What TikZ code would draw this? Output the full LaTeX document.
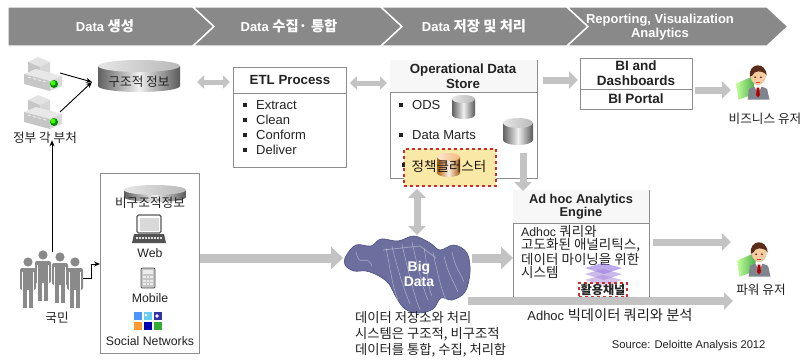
\documentclass[tikz,border=0pt]{standalone}
\usepackage{fontspec}
\setmainfont{Liberation Sans}
\newfontfamily\kr[Scale=1.1]{Noto Sans CJK KR}
\usetikzlibrary{arrows.meta,calc}

\definecolor{bandgray}{HTML}{898989}
\definecolor{flowgray}{HTML}{C3C3C3}
\definecolor{boxline}{HTML}{8E8E8E}
\definecolor{dashred}{HTML}{D02A2A}
\definecolor{policyfill}{HTML}{F9E9A6}
\definecolor{blobfill}{HTML}{6C6F9E}
\definecolor{blobline}{HTML}{4D5082}
\definecolor{crowd}{HTML}{8A8A8A}
\definecolor{skin}{HTML}{F6CDA3}
\definecolor{hair}{HTML}{5A2C1A}
\definecolor{suit}{HTML}{7E858E}
\definecolor{txt}{HTML}{222222}

% silver / gold database can: centre x, y of top cap, half width, body height, cap radius, tone
\newcommand\dbcan[6]{%
  \shade[left color=#6!75!black, right color=#6!70!black, middle color=#6!12!white]
    (#1-#3,#2) -- (#1-#3,#2+#4) arc[start angle=180,end angle=0,x radius=#3,y radius=#5] -- (#1+#3,#2) -- cycle;
  \shade[left color=#6!20!white, right color=#6!55!white]
    (#1,#2) ellipse[x radius=#3, y radius=#5];
}

\tikzset{
  hdr/.style={text=white, font=\bfseries\fontsize{13}{14}\selectfont, align=center},
  box/.style={draw=boxline, line width=0.8pt, fill=white},
  head/.style={font=\bfseries\fontsize{13.3}{14.5}\selectfont, text=txt, align=center},
  item/.style={font=\fontsize{13}{15}\selectfont, text=txt, anchor=west, inner sep=0pt},
  lbl/.style={font=\kr\fontsize{11.5}{12.5}\selectfont, text=txt},
  flow/.style={draw=flowgray, line width=7pt, -{Triangle[length=9pt,width=17pt]}},
  bigflow/.style={draw=flowgray, line width=9pt, -{Triangle[length=12pt,width=22pt]}},
  twoway/.style={draw=flowgray, line width=5pt, {Triangle[length=7pt,width=13pt]}-{Triangle[length=7pt,width=13pt]}},
  thin/.style={draw=black, line width=0.9pt, -{Stealth[length=6pt,width=5pt]}},
  usericon/.pic={
    \shade[left color=green!45!lime!40!white, right color=green!55!black!70]
      (-19,4) -- (-3,-3) -- (-3,13) -- (-17,18) -- cycle;
    \fill[suit] (-9,18) -- (-8,9) .. controls (-6,6) and (6,6) .. (8,9) -- (10,18) -- cycle;
    \fill[white] (-3,6.5) -- (3,6.5) -- (0,13) -- cycle;
    \fill[red!70!black] (-1.2,7.5) -- (1.2,7.5) -- (1.6,14) -- (0,16) -- (-1.6,14) -- cycle;
    \fill[skin, draw=brown!60, line width=0.3pt] (0,-3) ellipse[x radius=6.5, y radius=8];
    \fill[hair] (-7,-2) .. controls (-9,-14) and (7,-16) .. (7.5,-3)
      -- (6,-5) .. controls (3,-7) and (-3,-8) .. (-5,-3) -- cycle;
    \fill[hair] (-2.5,-1.5) circle[radius=0.8] (2.5,-1.5) circle[radius=0.8];
    \draw[red!50!brown, line width=0.5pt] (-1.5,2.5) -- (1.5,2.5);
  },
  building/.pic={
    % back block
    \fill[gray!22] (0,0) -- (10,-5) -- (22,0) -- (12,5) -- cycle;
    \fill[gray!45] (0,0) -- (12,5) -- (12,17) -- (0,12) -- cycle;
    \fill[gray!32] (12,5) -- (22,0) -- (22,12) -- (12,17) -- cycle;
    % front block
    \fill[gray!18] (-4,12) -- (8,7) -- (34,14) -- (22,19) -- cycle;
    \fill[gray!45] (-4,12) -- (22,19) -- (22,29) -- (-4,22) -- cycle;
    \fill[gray!30] (22,19) -- (34,14) -- (34,24) -- (22,29) -- cycle;
    \foreach \wx in {0,5,10,15} \draw[gray!15, line width=1pt] (\wx,15+\wx*0.27) -- (\wx+3,16+\wx*0.27);
    \fill[green!55!black] (26,22) circle[radius=4];
    \fill[green!70!lime] (25,21) circle[radius=2.5];
  },
  walker/.pic={
    \fill[crowd] (0,0) circle[radius=4.6];
    \fill[crowd, rounded corners=2pt] (-8,6) rectangle (8,28);
    \fill[crowd] (-5,24) rectangle (-0.7,46);
    \fill[crowd] (0.7,24) rectangle (5,46);
    \draw[white, line width=0.6pt] (-5.5,10) -- (-5.5,28) (5.5,10) -- (5.5,28);
  }
}

\begin{document}
\begin{tikzpicture}[x=1pt,y=-1pt]
\useasboundingbox (0,0) rectangle (804,364);
\fill[white] (0,0) rectangle (804,364);

% ---------- stage band ----------
\fill[bandgray, draw=white, line width=1.4pt]
  (8,7) -- (193,7) -- (214,26.5) -- (193,46) -- (8,46) -- cycle;
\foreach \xa/\xb in {193/381, 381/567, 567/767} {
  \fill[bandgray, draw=white, line width=1.4pt]
    (\xa,7) -- (\xb,7) -- (\xb+21,26.5) -- (\xb,46) -- (\xa,46) -- (\xa+21,26.5) -- cycle;
}
\node[hdr] (st1) at (105,26.5) {Data {\kr 생성}};
\node[hdr] (st2) at (289,26.5) {Data {\kr 수집}{\kr ·} {\kr 통합}};
\node[hdr] (st3) at (474,26.5) {Data {\kr 저장 및 처리}};
\node[hdr] (st4) at (660,27) {Reporting, Visualization\\Analytics};

% ---------- ministries and structured data ----------
\pic at (28,62) {building};
\pic at (28,100) {building};
\node[lbl] (gov) at (45,138) {정부 각 부처};
\coordinate (b1) at (60,73);
\coordinate (b2) at (60,112);

\dbcan{139}{66}{41}{20}{6}{gray}
\node[lbl] (sdb) at (139,82) {구조적 정보};
\coordinate (sdbin) at (92,82);
\draw[thin] (b1) -- (sdbin);
\draw[thin] (b2) -- (sdbin);

% ---------- ETL ----------
\node[box, minimum width=113pt, minimum height=100pt, anchor=north west, inner sep=0pt] (etl) at (233,67) {};
\draw[boxline, line width=0.8pt] (233,93) -- (346,93);
\node[head] (etlh) at (290,80) {ETL Process};
\foreach \t/\yy in {Extract/105, Clean/120, Conform/135, Deliver/150} {
  \fill[txt] (243,\yy-1.7) rectangle (246.5,\yy+1.7);
  \node[item] at (256,\yy) {\t};
}

\draw[twoway] (197,82) -- ([xshift=-3pt]etl.west |- 0,82);

% ---------- operational data store ----------
\node[box, minimum width=147pt, minimum height=118pt, anchor=north west, inner sep=0pt] (ods) at (390,60) {};
\fill[gray!6] (390.4,60.4) rectangle (536.6,92);
\draw[boxline, line width=0.8pt] (390,92) -- (537,92);
\node[head] (odsh) at (463,76) {Operational Data\\Store};
\fill[txt] (399,103.3) rectangle (402.5,106.7);
\node[item] at (412,105) {ODS};
\fill[txt] (399,133.3) rectangle (402.5,136.7);
\node[item] at (412,135) {Data Marts};
\dbcan{463.5}{99}{11.5}{16}{4}{gray}
\dbcan{518}{123}{15}{17}{5}{gray}

\draw[twoway] ([xshift=3pt]etl.east |- 0,83) -- ([xshift=-3pt]ods.west |- 0,83);

% policy cluster
\node[draw=dashred, dashed, line width=1.8pt, fill=policyfill, minimum width=92pt, minimum height=37pt, anchor=north west, inner sep=0pt] (pol) at (403,148) {};
\dbcan{448.5}{157}{11.5}{16}{4}{orange!70!brown}
\fill[txt] (401.5,163.3) rectangle (405,166.7);
\node[font=\kr\fontsize{12.3}{13}\selectfont, text=black!85!brown] (polt) at (449,166) {정책클러스터};

% ---------- BI ----------
\node[box, minimum width=112pt, minimum height=51pt, anchor=north west, inner sep=0pt] (bi) at (580,58) {};
\draw[boxline, line width=0.8pt] (580,89) -- (692,89);
\node[head, font=\bfseries\fontsize{13.5}{15}\selectfont] (bih) at (636,73) {BI and\\Dashboards};
\node[head, font=\bfseries\fontsize{13.5}{15}\selectfont] (bip) at (636,99) {BI Portal};
\draw[flow] ([xshift=5pt]ods.east |- 0,80) -- ([xshift=-2pt]bi.west |- 0,80);

\pic[scale=1.15] at (758,79) {usericon};
\node[lbl] (biz) at (765,119) {비즈니스 유저};
\coordinate (bizin) at (731,90);
\draw[flow] ([xshift=2pt]bi.east |- 0,90) -- (bizin);

% ---------- citizens ----------
\pic at (43,255) {walker};
\pic at (60,257) {walker};
\pic at (28,262) {walker};
\pic at (75,262) {walker};
\node[lbl] (ppl) at (57,318) {국민};
\coordinate (pplTop) at (52,252);
\draw[thin] (pplTop) -- ([yshift=7pt]gov.south -| pplTop);

% ---------- unstructured sources ----------
\node[box, line width=0.7pt, minimum width=99pt, minimum height=180pt, anchor=north west, inner sep=0pt] (src) at (100,173) {};
\draw[thin] (83,278) -- (91,278) -- (91,264) -- (src.west |- 0,264);
\dbcan{155}{190}{31}{7}{5}{gray}
\node[lbl] (unst) at (150,203) {비구조적정보};
% laptop
\draw[gray!70!black, line width=1.2pt, fill=white, rounded corners=1.5pt] (137,215) rectangle (161,233);
\fill[gray!30] (139.5,217.5) rectangle (158.5,231);
\fill[gray!65!black] (134,234) -- (164,234) -- (166,243) -- (132,243) -- cycle;
\foreach \kx in {136,139,...,162} \fill[gray!25] (\kx,237) rectangle (\kx+1.6,239);
\node[font=\fontsize{12.3}{13}\selectfont, text=txt] (web) at (150,253) {Web};
% calculator
\draw[gray!70!black, line width=0.8pt, fill=gray!45, rounded corners=1pt] (141,268) rectangle (155,288);
\fill[gray!15] (143,270) rectangle (153,274);
\foreach \cx in {143,146.5,150} \foreach \cy in {276,279.5,283} \fill[gray!15] (\cx,\cy) rectangle (\cx+2.6,\cy+2.4);
\node[font=\fontsize{12.3}{13}\selectfont, text=txt] (mob) at (150,298) {Mobile};
% social icons
\fill[blue!60!cyan!70] (134,312) rectangle (142,320);
\fill[cyan!60] (144,312) rectangle (152,320);
\fill[blue!55!black!80] (154,312) rectangle (162,320);
\fill[orange!80] (134,322) rectangle (142,330);
\fill[blue!70!black] (144,322) rectangle (152,330);
\fill[green!60!black!80] (154,322) rectangle (162,330);
\fill[white] (146,315) circle[radius=1.5] (157,316) circle[radius=1.8];
\node[font=\fontsize{12.3}{13}\selectfont, text=txt] (soc) at (150,341) {Social Networks};

% ---------- big data ----------
\filldraw[fill=blobfill, draw=blobline, line width=0.6pt]
  plot[smooth cycle, tension=0.6] coordinates {
    (346,256) (356,245) (371,246) (381,239) (398,241) (414,236) (430,243)
    (440,250) (454,245) (467,253) (470,272) (465,292) (452,300) (441,298)
    (433,309) (419,313) (405,309) (396,297) (389,284) (379,276) (366,271)
    (354,271) (345,265)};
\foreach \sx/\sy/\ex/\ey in {386/248/398/300, 392/246/410/304, 402/244/420/310, 412/242/428/300, 424/248/432/296,
                             444/256/458/292, 452/252/464/282, 356/252/372/266, 433/252/446/300}
  \draw[white, opacity=0.45, line width=0.5pt] (\sx,\sy) .. controls (\sx+4,\sy+18) and (\ex-6,\ey-14) .. (\ex,\ey);
\draw[white, opacity=0.35, line width=0.8pt] (383,250) -- (420,246) -- (436,258);
\node[font=\bfseries\fontsize{14}{15}\selectfont, text=white, align=center] (big) at (419,274) {Big\\Data};
\node[lbl, anchor=north west, align=left, font=\kr\fontsize{12.1}{16}\selectfont, inner sep=0pt] (bigtxt) at (355,311)
  {데이터 저장소와 처리\\시스템은 구조적, 비구조적\\데이터를 통합, 수집, 처리함};

\coordinate (bigL) at (343,258);
\draw[bigflow] (src.east |- 0,258) -- (bigL);
\coordinate (bigT) at (417,235);
\draw[twoway, line width=7pt, {Triangle[length=9pt,width=17pt]}-{Triangle[length=9pt,width=17pt]}] (pol.south -| bigT) ++(0,2) -- (bigT);

% ---------- ad hoc engine ----------
\node[box, minimum width=136pt, minimum height=107pt, anchor=north west, inner sep=0pt] (adh) at (513,190) {};
\fill[gray!6] (513.4,190.4) rectangle (648.6,223);
\draw[boxline, line width=0.8pt] (513,223) -- (649,223);
\node[head, font=\bfseries\fontsize{12.8}{13.5}\selectfont] (adhh) at (581,206.5) {Ad hoc Analytics\\Engine};
\node[anchor=north west, align=left, inner sep=0pt, text=txt, font=\fontsize{12.3}{13.4}\selectfont] (adht) at (521,225)
  {Adhoc {\kr 쿼리와}\\{\kr 고도화된 애널리틱스,}\\{\kr 데이터 마이닝을 위한}\\{\kr 시스템}};
% channel badge
\begin{scope}[opacity=0.55]
  \fill[blue!55!violet!60] (585,268) -- (603,263) -- (622,268) -- (604,274) -- cycle;
  \fill[blue!45!violet!50] (585,274) -- (603,269) -- (622,274) -- (604,280) -- cycle;
  \fill[blue!40!violet!45] (585,280) -- (603,275) -- (622,280) -- (604,286) -- cycle;
\end{scope}
\node[draw=dashred, dashed, line width=1.6pt, inner sep=1.5pt, font=\kr\bfseries\fontsize{11}{12}\selectfont, text=black!85, fill=white, fill opacity=0.35, text opacity=1] (chan) at (603,290) {활용채널};

\draw[bigflow] (472,258) -- (adh.west |- 0,258);
\draw[flow] (523,153) -- ([yshift=-1pt]adh.north -| 523,0);
\draw[flow] ([xshift=3pt]adh.east |- 0,242) -- (731,242);
\draw[flow, line width=8pt] (468,301) -- (733,301);
\node[font=\fontsize{13}{14}\selectfont, text=txt] (adq) at (610,315) {Adhoc {\kr 빅데이터 쿼리와 분석}};

\pic[scale=1.15] at (759,256) {usericon};
\node[lbl] (pwr) at (761,290) {파워 유저};

\node[font=\fontsize{11.2}{12}\selectfont, text=txt, anchor=east] (srcnote) at (769,346) {Source: Deloitte Analysis 2012};
\end{tikzpicture}
\end{document}
